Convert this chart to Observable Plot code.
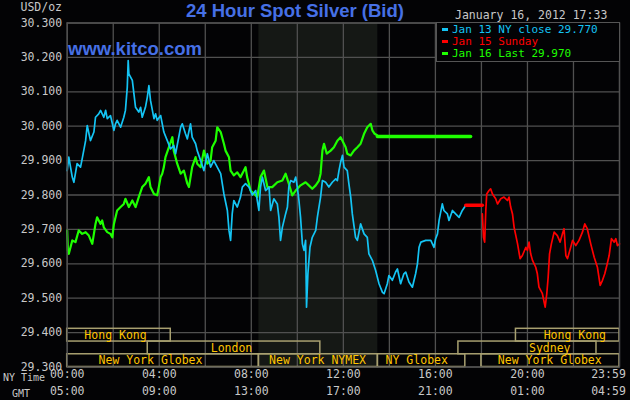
<!DOCTYPE html>
<html><head><meta charset="utf-8">
<script src="https://cdn.jsdelivr.net/npm/d3@7"></script>
<script src="https://cdn.jsdelivr.net/npm/@observablehq/plot@0.6"></script>
<style>
body{margin:0;background:#030305;}
#wrap{position:relative;width:630px;height:400px;overflow:hidden;background:#030305;font-family:"DejaVu Sans Mono",monospace;font-size:11.5px;color:#c8c8c8;}
.t{position:absolute;white-space:pre;line-height:1;}
.big{font-family:"Liberation Sans",Arial,sans-serif;font-weight:bold;font-size:18.5px;color:#4670e6;}
#legend{position:absolute;left:436px;top:22px;width:182px;height:38px;background:#030305;border:1px solid #555;}
.mk{position:absolute;width:6px;height:3px;}
</style></head><body><div id="wrap"></div>
<script>
// ---- data (hours since 00:00 NY time, price USD/oz) ----
const cyanHours = [0.00,0.07,0.22,0.29,0.43,0.58,0.65,0.80,0.87,1.01,1.16,1.23,1.37,1.45,1.59,1.67,1.74,1.88,2.03,2.10,2.17,2.32,2.46,2.53,2.61,2.65,2.68,2.83,2.90,2.97,3.11,3.19,3.26,3.40,3.48,3.55,3.62,3.77,3.84,3.91,4.06,4.13,4.20,4.35,4.49,4.63,4.71,4.93,5.00,5.14,5.22,5.36,5.43,5.58,5.65,5.80,5.94,6.09,6.23,6.37,6.52,6.67,6.81,6.96,7.03,7.10,7.17,7.24,7.39,7.53,7.61,7.75,7.90,8.04,8.19,8.33,8.40,8.48,8.62,8.77,8.84,8.98,9.13,9.20,9.27,9.35,9.49,9.57,9.63,9.71,9.85,9.93,10.00,10.07,10.14,10.22,10.29,10.36,10.40,10.46,10.55,10.65,10.80,10.87,11.01,11.09,11.23,11.37,11.52,11.67,11.74,11.81,11.88,11.96,12.03,12.17,12.24,12.32,12.39,12.53,12.61,12.75,12.90,13.04,13.11,13.26,13.40,13.55,13.70,13.77,13.91,13.98,14.13,14.27,14.35,14.49,14.63,14.71,14.85,15.00,15.14,15.22,15.29,15.37,15.58,15.80,15.94,16.01,16.09,16.16,16.30,16.37,16.52,16.59,16.74,16.88,17.03,17.17,17.32];
const cyanValues = [29.871,29.910,29.852,29.837,29.891,29.881,29.905,29.958,30.002,29.958,29.983,30.026,30.036,30.046,30.026,30.046,30.022,30.031,29.988,30.007,30.017,29.997,30.026,30.046,30.113,30.191,30.152,30.133,30.094,30.055,30.041,30.055,30.026,30.055,30.084,30.118,30.075,30.022,30.036,30.017,30.031,30.007,29.983,29.958,29.934,29.944,29.920,29.997,30.007,29.978,29.963,30.007,29.968,29.949,29.929,29.900,29.871,29.920,29.881,29.900,29.881,29.862,29.803,29.755,29.697,29.668,29.745,29.784,29.765,29.794,29.823,29.833,29.823,29.800,29.813,29.755,29.823,29.852,29.813,29.823,29.755,29.789,29.774,29.735,29.668,29.706,29.745,29.765,29.823,29.842,29.837,29.852,29.823,29.784,29.735,29.658,29.639,29.668,29.474,29.571,29.648,29.677,29.697,29.735,29.794,29.842,29.837,29.823,29.837,29.847,29.842,29.871,29.895,29.915,29.881,29.871,29.833,29.794,29.745,29.677,29.668,29.716,29.687,29.677,29.629,29.610,29.581,29.542,29.517,29.513,29.542,29.566,29.552,29.576,29.585,29.542,29.571,29.576,29.547,29.532,29.571,29.600,29.648,29.663,29.668,29.668,29.648,29.673,29.687,29.726,29.774,29.755,29.745,29.726,29.755,29.745,29.735,29.755,29.770];

const greenHours = [0.00,0.03,0.07,0.22,0.36,0.50,0.65,0.80,0.94,1.09,1.16,1.23,1.30,1.45,1.52,1.59,1.74,1.88,1.96,2.03,2.17,2.32,2.46,2.53,2.68,2.83,2.97,3.11,3.26,3.40,3.55,3.62,3.77,3.91,3.98,4.06,4.13,4.20,4.27,4.42,4.57,4.63,4.78,4.93,5.07,5.22,5.29,5.43,5.58,5.65,5.80,5.94,6.09,6.23,6.30,6.45,6.52,6.67,6.81,6.88,7.03,7.10,7.24,7.39,7.53,7.68,7.75,7.82,7.97,8.12,8.26,8.40,8.55,8.70,8.91,9.13,9.35,9.49,9.63,9.78,9.93,10.14,10.36,10.50,10.65,10.80,10.94,11.01,11.09,11.16,11.28,11.45,11.59,11.74,11.88,11.96,12.10,12.17,12.32,12.46,12.61,12.75,12.90,13.04,13.19,13.26,13.36,13.48];
const greenValues = [29.697,29.639,29.629,29.668,29.663,29.697,29.687,29.692,29.682,29.658,29.687,29.716,29.735,29.716,29.726,29.706,29.692,29.687,29.677,29.716,29.755,29.765,29.774,29.789,29.765,29.784,29.765,29.794,29.823,29.833,29.852,29.823,29.803,29.799,29.823,29.852,29.862,29.881,29.910,29.939,29.968,29.929,29.891,29.862,29.871,29.833,29.823,29.881,29.910,29.891,29.881,29.929,29.891,29.900,29.939,29.958,29.997,29.983,29.949,29.929,29.910,29.871,29.857,29.866,29.852,29.871,29.881,29.852,29.813,29.803,29.794,29.852,29.871,29.823,29.823,29.837,29.842,29.862,29.833,29.799,29.813,29.828,29.837,29.828,29.818,29.828,29.842,29.862,29.929,29.949,29.920,29.929,29.939,29.958,29.968,29.958,29.939,29.920,29.915,29.929,29.939,29.949,29.978,29.997,30.007,29.988,29.978,29.973];
const greenLastHours = [13.48, 17.53];
const greenLastValues = [29.970, 29.970];

const redFlatHours = [17.32, 18.04];
const redFlatValues = [29.770, 29.770];
const redHours = [18.04,18.09,18.14,18.19,18.23,18.33,18.40,18.48,18.62,18.70,18.84,18.98,19.13,19.20,19.27,19.35,19.42,19.57,19.68,19.78,19.93,20.00,20.07,20.14,20.22,20.36,20.43,20.50,20.65,20.77,20.84,20.90,20.96,21.04,21.16,21.30,21.42,21.52,21.59,21.67,21.74,21.88,21.96,22.10,22.24,22.39,22.49,22.60,22.75,22.90,23.04,23.16,23.26,23.36,23.45,23.55,23.65,23.77,23.84,23.91,24.00];
const redValues = [29.745,29.677,29.663,29.755,29.803,29.813,29.818,29.803,29.789,29.774,29.789,29.794,29.784,29.794,29.765,29.745,29.706,29.658,29.615,29.624,29.648,29.639,29.663,29.629,29.610,29.590,29.571,29.532,29.513,29.474,29.513,29.561,29.629,29.658,29.692,29.682,29.663,29.687,29.702,29.624,29.615,29.648,29.668,29.653,29.668,29.692,29.716,29.702,29.658,29.619,29.590,29.537,29.552,29.571,29.595,29.624,29.673,29.663,29.673,29.653,29.658];

const nymexHours = [8.33, 13.5];

const sessionNames   = ["Hong Kong","London","New York Globex","New York NYMEX","NY Globex","Sydney","New York Globex","Hong Kong"];
const sessionStart   = [0, 3.5, 0, 8.33, 13.5, 17, 18, 19.5];
const sessionEnd     = [4.5, 11, 8.33, 13.5, 17.3, 23, 24, 24];
const sessionRow     = [0, 1, 2, 2, 2, 1, 2, 0];
const sessionLabelAt = [2.1, 7.14, 3.62, 10.88, 15.19, 20.97, 20.97, 22.06];

const yTicks = [29.3,29.4,29.5,29.6,29.7,29.8,29.9,30.0,30.1,30.2,30.3];
const xTickHours = [0,4,8,12,16,20,24];
const nyLabels  = ["00:00","04:00","08:00","12:00","16:00","20:00","23:59"];
const gmtLabels = ["05:00","09:00","13:00","17:00","21:00","01:00","04:59"];

// ---- build ----
const pts = (h, v) => h.map((x, i) => ({x, y: v[i]}));
const ROW = 0.037;
const sessions = sessionNames.map((name, i) => ({
  name, x1: sessionStart[i], x2: sessionEnd[i], lx: sessionLabelAt[i],
  y1: 29.3 + (2 - sessionRow[i]) * ROW, y2: 29.3 + (3 - sessionRow[i]) * ROW
}));
const ticks = xTickHours.map((h, i) => ({h, ny: nyLabels[i], gmt: gmtLabels[i], last: i === xTickHours.length - 1}));
const inner = ticks.filter(d => !d.last), lastT = ticks.filter(d => d.last);
const tickText = (data, key, dy, dx) => Plot.text(data, {x: "h", text: key, frameAnchor: "bottom", dy, dx, fill: "#c8c8c8"});

const chart = Plot.plot({
  width: 630, height: 400,
  marginLeft: 66.7, marginRight: 11, marginTop: 22.5, marginBottom: 33.5,
  style: {background: "#030305", color: "#c8c8c8", fontFamily: "DejaVu Sans Mono, monospace", fontSize: "11.5px"},
  x: {domain: [0, 24], axis: null},
  y: {domain: [29.3, 30.3], axis: null},
  marks: [
    Plot.rect([nymexHours], {x1: d => d[0], x2: d => d[1], y1: 29.3, y2: 30.3, fill: "#151815"}),
    Plot.ruleX(d3.range(0, 25, 2), {stroke: "#505050", strokeWidth: 1.3}),
    Plot.ruleY(yTicks, {stroke: "#505050", strokeWidth: 1.3}),
    Plot.line(pts(greenHours, greenValues), {x: "x", y: "y", stroke: "#1eff00", strokeWidth: 2.2}),
    Plot.line(pts(cyanHours, cyanValues), {x: "x", y: "y", stroke: "#14c4f4", strokeWidth: 1.7}),
    Plot.line(pts(redHours, redValues), {x: "x", y: "y", stroke: "#ff0000", strokeWidth: 1.7}),
    Plot.line(pts(greenLastHours, greenLastValues), {x: "x", y: "y", stroke: "#1eff00", strokeWidth: 3.5}),
    Plot.line(pts(redFlatHours, redFlatValues), {x: "x", y: "y", stroke: "#ff0000", strokeWidth: 3.5}),
    Plot.rect(sessions, {x1: "x1", x2: "x2", y1: "y1", y2: "y2", stroke: "#a8a070", strokeWidth: 1.5, fill: "none"}),
    Plot.text(sessions, {x: "lx", y: d => (d.y1 + d.y2) / 2, text: "name", fill: "#ffc400", fontSize: 11.5}),
    Plot.frame({stroke: "#505050", strokeWidth: 1.3}),
    Plot.axisY({ticks: yTicks, tickFormat: d3.format(".3f"), tickSize: 0, tickPadding: 5, label: null, fill: "#c8c8c8"}),
    tickText(inner, "ny", 11.2, 0),
    tickText(inner, "gmt", 27.5, 0),
    tickText(lastT, "ny", 11.2, -11),
    tickText(lastT, "gmt", 27.5, -11)
  ]
});

const wrap = document.getElementById("wrap");
wrap.appendChild(chart);
const add = (html) => wrap.insertAdjacentHTML("beforeend", html);
add('<div class="t big" style="left:186px;top:1.8px">24 Hour Spot Silver (Bid)</div>');
add('<div class="t big" style="left:68px;top:40.3px">www.kitco.com</div>');
add('<div class="t" style="left:20.5px;top:2px">USD/oz</div>');
add('<div class="t" style="left:455px;top:9.5px">January 16, 2012 17:33</div>');
add('<div class="t" style="left:3px;top:373px;font-size:10px">NY Time</div>');
add('<div class="t" style="left:12px;top:388.5px;font-size:10px">GMT</div>');
const legendItems = [
  {text: "Jan 13 NY close 29.770", color: "#14c4f4"},
  {text: "Jan 15 Sunday", color: "#ff0000"},
  {text: "Jan 16 Last 29.970", color: "#1eff00"}
];
add('<div id="legend"></div>');
legendItems.forEach((d, i) => {
  const c = 29.3 + i * 12;
  add(`<div class="mk" style="left:442px;top:${c - 1.5}px;background:${d.color}"></div>`);
  add(`<div class="t" style="left:452px;top:${c - 5.5}px;color:${d.color};font-size:11px">${d.text}</div>`);
});
</script></body></html>
